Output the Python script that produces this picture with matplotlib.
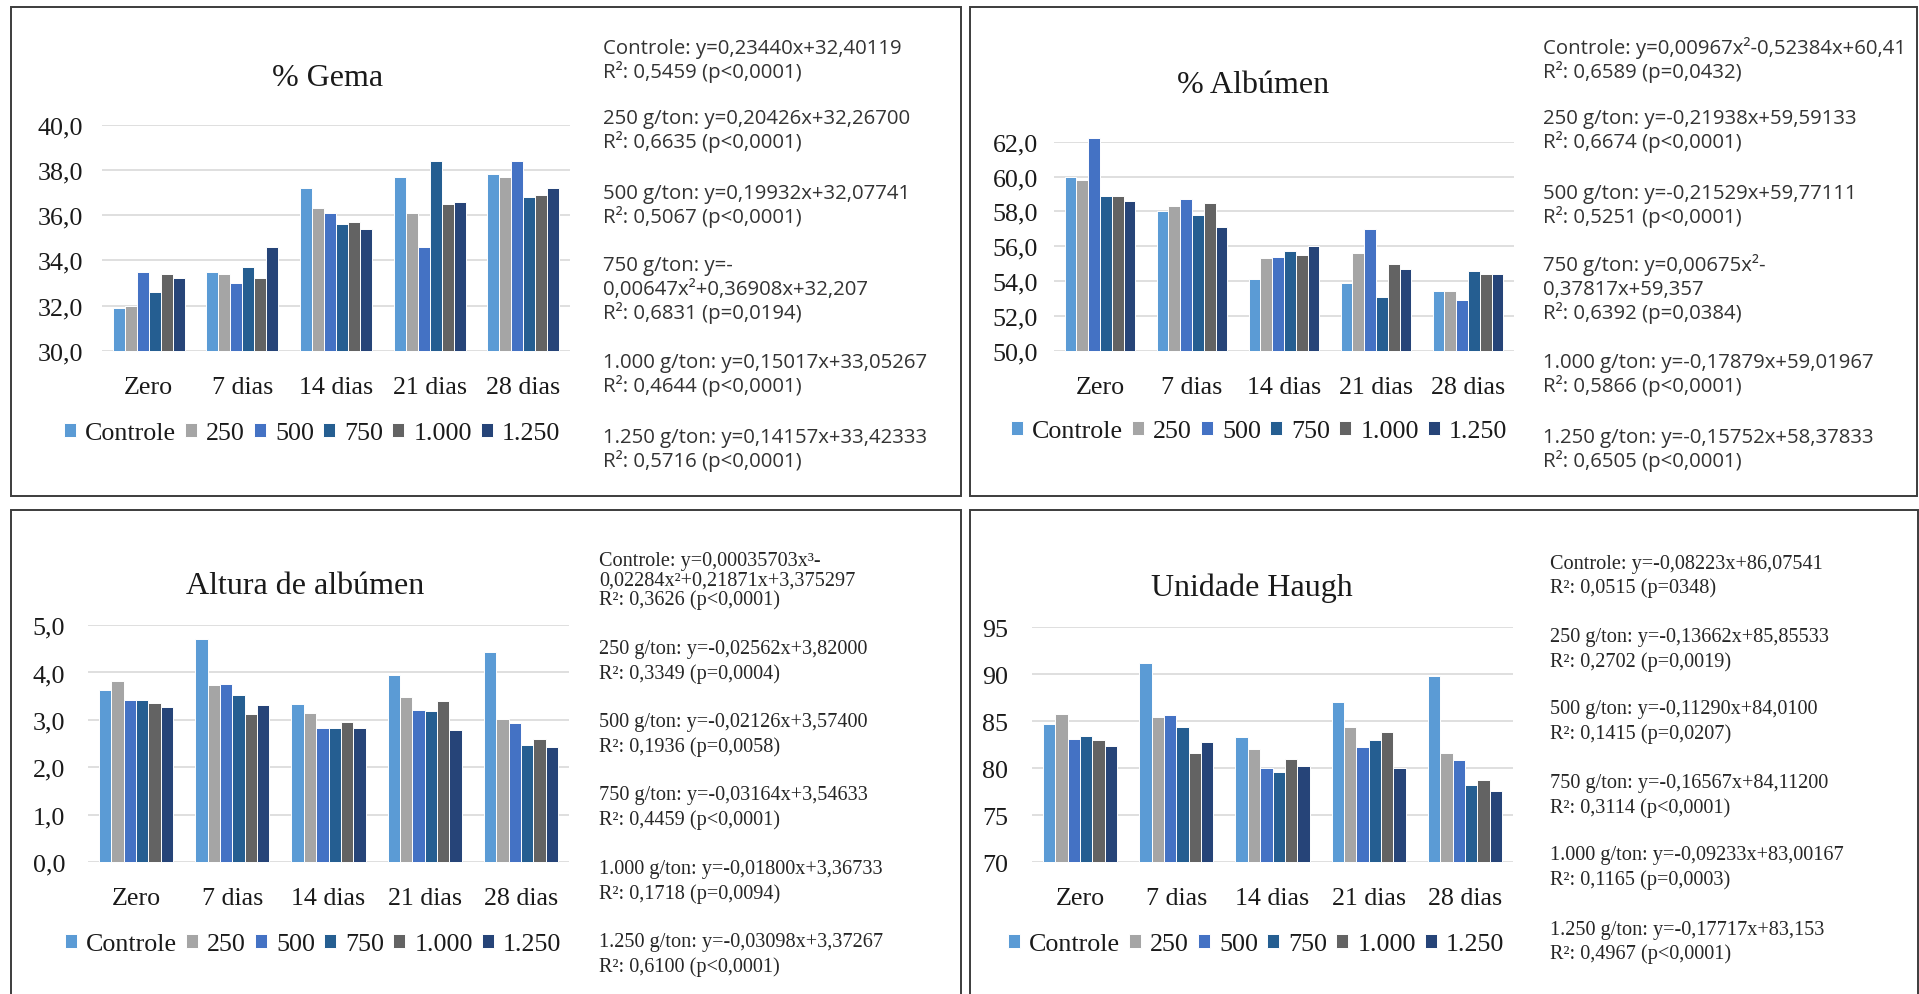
import matplotlib.pyplot as plt
from matplotlib.patches import Rectangle

W, H = 1919, 995

dias = ['Zero', '7 dias', '14 dias', '21 dias', '28 dias']
doses = ['Controle', '250', '500', '750', '1.000', '1.250']
cores = ['#5B9BD5', '#A5A5A5', '#4472C4', '#255E91', '#636363', '#264478']

# one row per dose: Controle, 250, 500, 750, 1.000, 1.250
gema = [
    [31.9, 33.5, 37.2, 37.7, 37.8],
    [32.0, 33.4, 36.3, 36.1, 37.7],
    [33.5, 33.0, 36.1, 34.6, 38.4],
    [32.6, 33.7, 35.6, 38.4, 36.8],
    [33.4, 33.2, 35.7, 36.5, 36.9],
    [33.2, 34.6, 35.4, 36.6, 37.2],
]
albumen = [
    [60.0, 58.0, 54.1, 53.9, 53.4],
    [59.8, 58.3, 55.3, 55.6, 53.4],
    [62.2, 58.7, 55.4, 57.0, 52.9],
    [58.9, 57.8, 55.7, 53.1, 54.6],
    [58.9, 58.5, 55.5, 55.0, 54.4],
    [58.6, 57.1, 56.0, 54.7, 54.4],
]
altura = [
    [3.64, 4.71, 3.34, 3.95, 4.43],
    [3.82, 3.74, 3.15, 3.48, 3.02],
    [3.43, 3.76, 2.82, 3.21, 2.94],
    [3.43, 3.52, 2.82, 3.18, 2.48],
    [3.36, 3.12, 2.96, 3.39, 2.60],
    [3.27, 3.31, 2.84, 2.78, 2.42],
]
haugh = [
    [84.7, 91.2, 83.3, 87.0, 89.8],
    [85.7, 85.4, 82.0, 84.4, 81.6],
    [83.1, 85.6, 80.0, 82.2, 80.8],
    [83.4, 84.4, 79.6, 83.0, 78.2],
    [83.0, 81.6, 81.0, 83.8, 78.7],
    [82.3, 82.8, 80.2, 80.0, 77.6],
]

ticks_gema = [30, 32, 34, 36, 38, 40]
ticks_albumen = [50, 52, 54, 56, 58, 60, 62]
ticks_altura = [0, 1, 2, 3, 4, 5]
ticks_haugh = [70, 75, 80, 85, 90, 95]

eq_gema = [
    'Controle: y=0,23440x+32,40119', 'R²: 0,5459 (p<0,0001)',
    '250 g/ton: y=0,20426x+32,26700', 'R²: 0,6635 (p<0,0001)',
    '500 g/ton: y=0,19932x+32,07741', 'R²: 0,5067 (p<0,0001)',
    '750 g/ton: y=-', '0,00647x²+0,36908x+32,207', 'R²: 0,6831 (p=0,0194)',
    '1.000 g/ton: y=0,15017x+33,05267', 'R²: 0,4644 (p<0,0001)',
    '1.250 g/ton: y=0,14157x+33,42333', 'R²: 0,5716 (p<0,0001)',
]
eq_albumen = [
    'Controle: y=0,00967x²-0,52384x+60,41', 'R²: 0,6589 (p=0,0432)',
    '250 g/ton: y=-0,21938x+59,59133', 'R²: 0,6674 (p<0,0001)',
    '500 g/ton: y=-0,21529x+59,77111', 'R²: 0,5251 (p<0,0001)',
    '750 g/ton: y=0,00675x²-', '0,37817x+59,357', 'R²: 0,6392 (p=0,0384)',
    '1.000 g/ton: y=-0,17879x+59,01967', 'R²: 0,5866 (p<0,0001)',
    '1.250 g/ton: y=-0,15752x+58,37833', 'R²: 0,6505 (p<0,0001)',
]
eq_altura = [
    'Controle: y=0,00035703x³-', '0,02284x²+0,21871x+3,375297', 'R²: 0,3626 (p<0,0001)',
    '250 g/ton: y=-0,02562x+3,82000', 'R²: 0,3349 (p=0,0004)',
    '500 g/ton: y=-0,02126x+3,57400', 'R²: 0,1936 (p=0,0058)',
    '750 g/ton: y=-0,03164x+3,54633', 'R²: 0,4459 (p<0,0001)',
    '1.000 g/ton: y=-0,01800x+3,36733', 'R²: 0,1718 (p=0,0094)',
    '1.250 g/ton: y=-0,03098x+3,37267', 'R²: 0,6100 (p<0,0001)',
]
eq_haugh = [
    'Controle: y=-0,08223x+86,07541', 'R²: 0,0515 (p=0348)',
    '250 g/ton: y=-0,13662x+85,85533', 'R²: 0,2702 (p=0,0019)',
    '500 g/ton: y=-0,11290x+84,0100', 'R²: 0,1415 (p=0,0207)',
    '750 g/ton: y=-0,16567x+84,11200', 'R²: 0,3114 (p<0,0001)',
    '1.000 g/ton: y=-0,09233x+83,00167', 'R²: 0,1165 (p=0,0003)',
    '1.250 g/ton: y=-0,17717x+83,153', 'R²: 0,4967 (p<0,0001)',
]

SERIF = 'Liberation Serif'
PT = 100 / 72.0  # px per point at dpi 100

fig = plt.figure(figsize=(W / 100, H / 100), dpi=100)
fig.patch.set_facecolor('white')


def fx(x):
    return x / W


def fy(y):
    return 1 - y / H


# panel frames
for (l, t, r, b) in [(11, 8, 961, 497), (970, 8, 1917, 497),
                     (11, 511, 961, 1005), (970, 511, 1918, 1005)]:
    fig.add_artist(Rectangle((fx(l), fy(b)), fx(r - l), (b - t) / H,
                             transform=fig.transFigure, fill=False,
                             ec='#3c3c3c', lw=1.4))


def painel(box, valores, ticks, decimais, titulo, tit_xy, leg_xy, ypad):
    l, t, r, b = box
    ax = fig.add_axes([fx(l), fy(b), fx(r - l), (b - t) / H])
    y0 = ticks[0]
    gw = 0.77
    bw = gw / len(doses)
    for i, serie in enumerate(valores):
        xs = [k - gw / 2 + bw * (i + 0.5) for k in range(len(dias))]
        ax.bar(xs, [v - y0 for v in serie], bottom=y0, width=bw,
               color=cores[i], edgecolor='white', linewidth=0.7,
               label=doses[i], zorder=3, clip_on=False)
    ax.set_xlim(-0.5, len(dias) - 0.5)
    ax.set_ylim(ticks[0], ticks[-1])
    ax.set_yticks(ticks)
    ax.set_yticklabels([f'{v:.{decimais}f}'.replace('.', ',') for v in ticks])
    ax.set_xticks(range(len(dias)))
    ax.set_xticklabels(dias)
    ax.grid(axis='y', color='#D9D9D9', lw=1.2, zorder=0)
    ax.set_axisbelow(True)
    for s in ax.spines.values():
        s.set_visible(False)
    ax.tick_params(axis='both', length=0, labelsize=18.7, colors='#1a1a1a')
    ax.tick_params(axis='y', pad=ypad)
    ax.tick_params(axis='x', pad=18)
    for lab in ax.get_xticklabels() + ax.get_yticklabels():
        lab.set_family(SERIF)
    fig.text(fx(tit_xy[0]), fy(tit_xy[1] + 10.6), titulo, ha='center',
             va='baseline', family=SERIF, fontsize=23, color='#1a1a1a')
    leg = ax.legend(loc='center', bbox_to_anchor=(fx(leg_xy[0]), fy(leg_xy[1] + 2.5)),
                    bbox_transform=fig.transFigure, ncol=6, frameon=False,
                    prop={'family': SERIF, 'size': 18.7}, handlelength=0.46,
                    handleheight=0.46, handletextpad=0.35, columnspacing=0.35,
                    borderpad=0, borderaxespad=0)
    for txt in leg.get_texts():
        txt.set_color('#1a1a1a')
    return ax


painel((102, 125.7, 570, 351.7), gema, ticks_gema, 1, '% Gema',
       (328, 75), (312, 432), 19 / PT)
painel((1054, 142.7, 1514, 351.7), albumen, ticks_albumen, 1, '% Albúmen',
       (1253, 82), (1259, 430), 16 / PT)
painel((88, 626, 569, 863.3), altura, ticks_altura, 1, 'Altura de albúmen',
       (305, 583), (313, 943), 23 / PT)
painel((1032, 628, 1513, 863), haugh, ticks_haugh, 0, 'Unidade Haugh',
       (1252, 585), (1256, 943), 24 / PT)


def equacoes(linhas, x, ys, familia, tamanho, cor, meia_cap):
    for texto, y in zip(linhas, ys):
        fig.text(fx(x), fy(y + meia_cap), texto, ha='left', va='baseline',
                 family=familia, fontsize=tamanho, color=cor)


ys_topo = [47, 71, 117, 141, 192, 216, 264, 288, 312, 361, 385, 436, 460]
ys_altura = [559, 579, 598, 647, 672, 720, 745, 793, 818, 867, 892, 940, 965]
ys_haugh = [562, 586, 635, 660, 707, 732, 781, 806, 853, 878, 928, 952]

equacoes(eq_gema, 603, ys_topo, 'Open Sans', 14.7, '#333333', 7.3)
equacoes(eq_albumen, 1543, ys_topo, 'Open Sans', 14.7, '#333333', 7.3)
equacoes(eq_altura, 599, ys_altura, SERIF, 14.6, '#262626', 6.7)
equacoes(eq_haugh, 1550, ys_haugh, SERIF, 14.6, '#262626', 6.7)

fig.savefig('out.png', dpi=100, facecolor='white')
